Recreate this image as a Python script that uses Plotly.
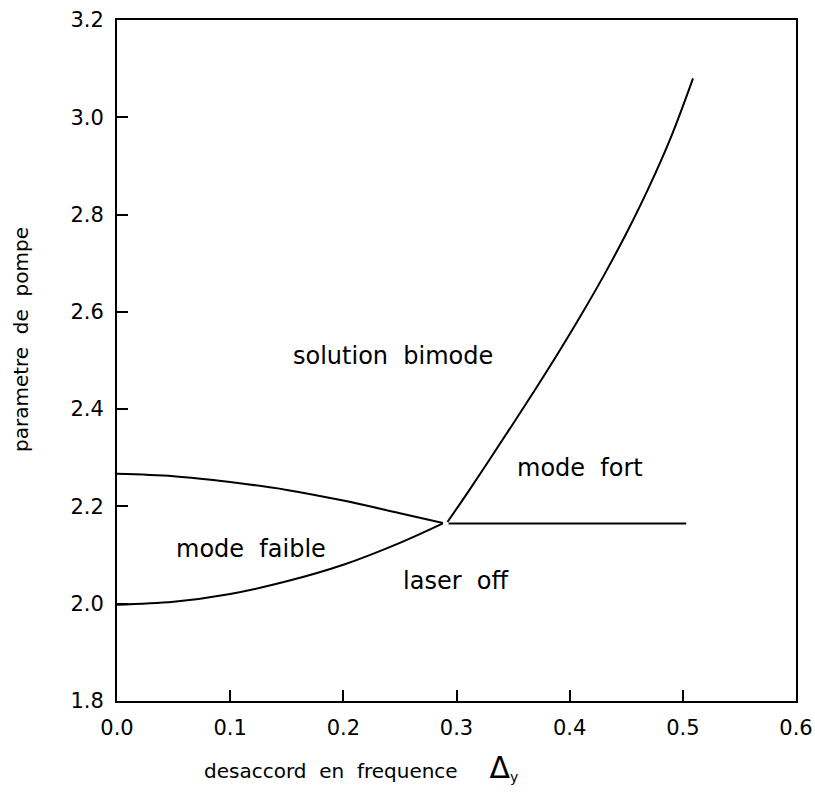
import plotly.graph_objects as go

# Frontier curves of the pump-parameter / detuning phase diagram
upper_x = [0.0, 0.05, 0.10, 0.15, 0.20, 0.25, 0.288]
upper_y = [2.267, 2.262, 2.250, 2.234, 2.212, 2.186, 2.166]

lower_x = [0.0, 0.05, 0.10, 0.15, 0.20, 0.25, 0.288]
lower_y = [1.998, 2.004, 2.020, 2.046, 2.080, 2.125, 2.165]

rising_x = [0.292, 0.31, 0.33, 0.35, 0.37, 0.39, 0.41, 0.43, 0.45, 0.47, 0.49, 0.509]
rising_y = [2.168, 2.229, 2.299, 2.370, 2.442, 2.516, 2.593, 2.674, 2.761, 2.856, 2.962, 3.080]

flat_x = [0.293, 0.503]
flat_y = [2.165, 2.165]

# Region labels
region_text = ["solution\u00a0\u00a0bimode", "mode\u00a0\u00a0fort",
               "mode\u00a0\u00a0faible", "laser\u00a0\u00a0off"]
region_x = [0.244, 0.409, 0.118, 0.299]
region_y = [2.509, 2.278, 2.113, 2.047]

x_ticks = [0.0, 0.1, 0.2, 0.3, 0.4, 0.5, 0.6]
x_tick_labels = ["0.0", "0.1", "0.2", "0.3", "0.4", "0.5", "0.6"]
y_ticks = [1.8, 2.0, 2.2, 2.4, 2.6, 2.8, 3.0, 3.2]
y_tick_labels = ["1.8", "2.0", "2.2", "2.4", "2.6", "2.8", "3.0", "3.2"]

FONT = "DejaVu Sans"
line_style = dict(color="black", width=2)

fig = go.Figure()
for xs, ys, shape in [(upper_x, upper_y, "spline"), (lower_x, lower_y, "spline"),
                      (rising_x, rising_y, "spline"), (flat_x, flat_y, "linear")]:
    fig.add_trace(go.Scatter(x=xs, y=ys, mode="lines", line=dict(shape=shape, **line_style),
                             showlegend=False, hoverinfo="skip"))

for t, x, y in zip(region_text, region_x, region_y):
    fig.add_annotation(x=x, y=y, xref="x", yref="y", text=t, showarrow=False,
                       font=dict(family=FONT, size=24, color="black"))

# Axis titles as free annotations (plot area spans L..R px by T..B px)
L, R, T, B = 117, 796, 20, 701
fig.add_annotation(
    x=(202 - L) / (R - L), y=(B - 767) / (B - T), xref="paper", yref="paper",
    text="desaccord\u00a0\u00a0en\u00a0\u00a0frequence\u00a0\u00a0\u00a0\u00a0\u00a0"
         "<span style='font-size:30px'>\u0394</span><sub>y</sub>",
    showarrow=False, xanchor="left", yanchor="middle",
    font=dict(family=FONT, size=20, color="black"))
fig.add_annotation(
    x=(21 - L) / (R - L), y=(B - 340) / (B - T), xref="paper", yref="paper",
    text="parametre\u00a0\u00a0de\u00a0\u00a0pompe", textangle=-90,
    showarrow=False, xanchor="center", yanchor="middle",
    font=dict(family=FONT, size=20, color="black"))

axis_common = dict(showgrid=False, zeroline=False, showline=True, linecolor="black",
                   linewidth=2, mirror=True, ticks="inside", ticklen=11, tickwidth=1.5,
                   tickcolor="black", ticklabeloverflow="allow", automargin=False,
                   tickfont=dict(family=FONT, size=21, color="black"))

fig.update_xaxes(range=[0, 0.600001], tickvals=x_ticks, ticktext=x_tick_labels,
                 ticklabelstandoff=7, **axis_common)
fig.update_yaxes(range=[1.8, 3.200001], tickvals=y_ticks, ticktext=y_tick_labels,
                 ticklabelstandoff=7, **axis_common)

fig.update_layout(width=815, height=801, margin=dict(l=L, r=815 - R, t=T, b=801 - B),
                  plot_bgcolor="white", paper_bgcolor="white")

fig.write_html("out.html")
